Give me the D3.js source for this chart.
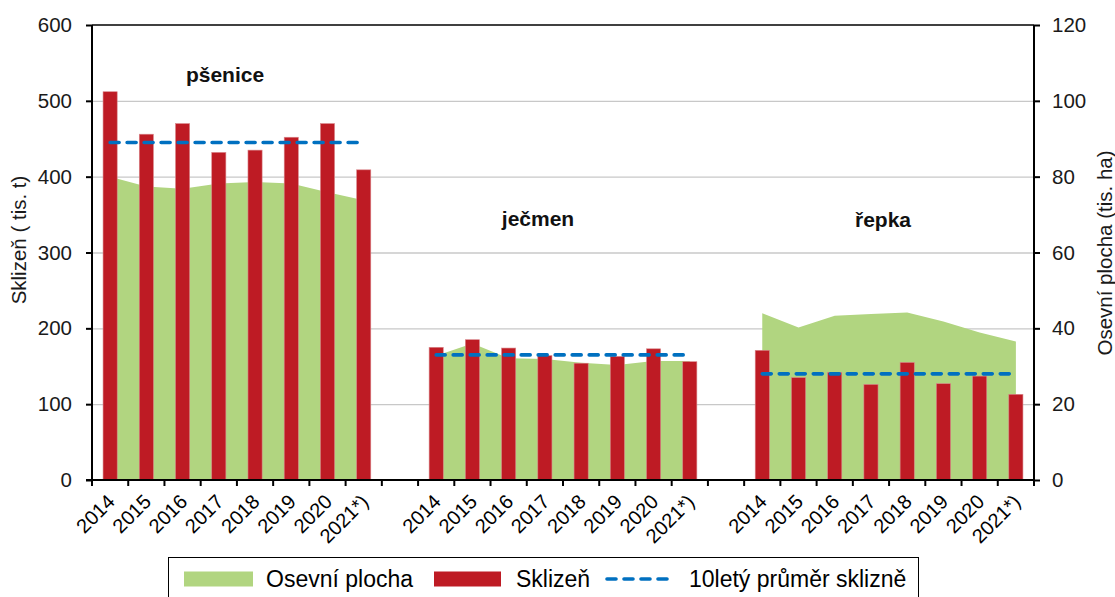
<!DOCTYPE html>
<html>
<head>
<meta charset="utf-8">
<script src="https://cdn.jsdelivr.net/npm/d3@7"></script>
<style>
  html, body { margin: 0; padding: 0; background: #fff; }
  svg { display: block; font-family: "Liberation Sans", Arial, sans-serif; }
</style>
</head>
<body>
<svg id="chart" width="1115" height="597"></svg>
<script>
// ---- data ----
const years = ["2014", "2015", "2016", "2017", "2018", "2019", "2020", "2021*)"];
const crops = ["pšenice", "ječmen", "řepka"];
const sklizenPsenice = [512, 456, 470, 432, 435, 452, 470, 409];
const sklizenJecmen  = [175, 185, 174, 164, 154, 163, 173, 156];
const sklizenRepka   = [171, 135, 142, 126, 155, 127, 137, 113];
const plochaPsenice  = [80.0, 77.4, 76.8, 78.2, 78.6, 78.2, 75.9, 73.8];
const plochaJecmen   = [32.8, 36.0, 32.1, 31.9, 30.9, 30.3, 31.4, 31.4];
const plochaRepka    = [44.0, 40.2, 43.3, 43.8, 44.2, 41.8, 38.9, 36.5];
const prumer10       = [445, 165, 140];
const leftTicks  = [0, 100, 200, 300, 400, 500, 600];
const rightTicks = [0, 20, 40, 60, 80, 100, 120];
const legendLabels = ["Osevní plocha", "Sklizeň", "10letý průměr sklizně"];
const yTitleLeft = "Sklizeň ( tis. t)";
const yTitleRight = "Osevní plocha (tis. ha)";

const sklizen = [sklizenPsenice, sklizenJecmen, sklizenRepka];
const plocha = [plochaPsenice, plochaJecmen, plochaRepka];

// build category keys: 3 groups of 8 with a blank category between groups
const cats = [];
crops.forEach((c, gi) => {
  years.forEach((y, yi) => cats.push({key: gi + "_" + yi, label: y, g: gi, i: yi}));
  if (gi < crops.length - 1) cats.push({key: "gap" + gi, label: "", g: -1, i: -1});
});

// ---- layout ----
const M = {left: 92, right: 1034, top: 25, bottom: 480};
const RED = "#be1b24", GREEN = "#b1d580", BLUE = "#0070c0";
const FONT = 20.5;

const svg = d3.select("#chart");
const x = d3.scaleBand().domain(cats.map(d => d.key)).range([M.left, M.right])
  .paddingInner(0.61).paddingOuter(0.305);
const xc = k => x(k) + x.bandwidth() / 2;
const step = x.step();
const yL = d3.scaleLinear().domain([0, 600]).range([M.bottom, M.top]);
const yR = d3.scaleLinear().domain([0, 120]).range([M.bottom, M.top]);

// gridlines
svg.append("g").selectAll("line").data(leftTicks.filter(t => t > 0 && t < 600)).join("line")
  .attr("x1", M.left).attr("x2", M.right)
  .attr("y1", d => yL(d) + 0.5).attr("y2", d => yL(d) + 0.5)
  .attr("stroke", "#c8c8c8").attr("stroke-width", 1.3);

// areas (Osevní plocha, right axis)
const area = d3.area().x(d => xc(d.k)).y0(yR(0)).y1(d => yR(d.v));
plocha.forEach((arr, gi) => {
  const pts = arr.map((v, i) => ({k: gi + "_" + i, v}));
  svg.append("path").datum(pts).attr("d", area).attr("fill", GREEN);
});

// bars (Sklizeň, left axis)
const barData = [];
sklizen.forEach((arr, gi) => arr.forEach((v, i) => barData.push({k: gi + "_" + i, v})));
svg.append("g").selectAll("rect").data(barData).join("rect")
  .attr("x", d => x(d.k)).attr("width", x.bandwidth())
  .attr("y", d => yL(d.v)).attr("height", d => yL(0) - yL(d.v))
  .attr("fill", RED).attr("stroke", "#d9878b").attr("stroke-width", 0.6);

// 10-year average lines
prumer10.forEach((v, gi) => {
  svg.append("line")
    .attr("x1", xc(gi + "_0")).attr("x2", xc(gi + "_7"))
    .attr("y1", yL(v)).attr("y2", yL(v))
    .attr("stroke", BLUE).attr("stroke-width", 3.6)
    .attr("stroke-dasharray", "9,8").attr("stroke-linecap", "round");
});

// axes
const axL = svg.append("g").attr("transform", `translate(${M.left},0)`)
  .call(d3.axisLeft(yL).tickValues(leftTicks).tickSize(6).tickPadding(14).tickFormat(d3.format("d")));
const axR = svg.append("g").attr("transform", `translate(${M.right},0)`)
  .call(d3.axisRight(yR).tickValues(rightTicks).tickSize(6).tickPadding(12).tickFormat(d3.format("d")));
[axL, axR].forEach(a => {
  a.select(".domain").attr("stroke", "#000").attr("stroke-width", 2).attr("d", `M0,${M.top}V${M.bottom}`);
  a.selectAll(".tick line").attr("stroke", "#000").attr("stroke-width", 2);
  a.selectAll(".tick text").attr("font-size", FONT).attr("fill", "#1a1a1a")
    .attr("font-family", "Liberation Sans, Arial, sans-serif");
});
// top border
svg.append("line").attr("x1", M.left).attr("x2", M.right)
  .attr("y1", M.top).attr("y2", M.top).attr("stroke", "#000").attr("stroke-width", 1.5);

// x axis
const gx = svg.append("g");
gx.append("line").attr("x1", M.left - 6).attr("x2", M.right)
  .attr("y1", M.bottom).attr("y2", M.bottom).attr("stroke", "#000").attr("stroke-width", 2);
const bounds = d3.range(cats.length + 1).map(i => M.left + i * step);
gx.selectAll("line.t").data(bounds).join("line").attr("class", "t")
  .attr("x1", d => d).attr("x2", d => d).attr("y1", M.bottom).attr("y2", M.bottom + 6)
  .attr("stroke", "#000").attr("stroke-width", 2);
gx.selectAll("text").data(cats.filter(d => d.label)).join("text")
  .attr("transform", d => `translate(${xc(d.key) + 1},${M.bottom + 18}) rotate(-45)`)
  .attr("text-anchor", "end").attr("dy", "0.35em")
  .attr("font-size", 20).attr("fill", "#000").text(d => d.label);

// group labels
const groupLabelPos = [[225, 82], [538, 226], [883, 227]];
crops.forEach((c, gi) => {
  svg.append("text").attr("x", groupLabelPos[gi][0]).attr("y", groupLabelPos[gi][1])
    .attr("text-anchor", "middle").attr("font-weight", "bold").attr("font-size", 21)
    .attr("fill", "#111").text(c);
});

// axis titles
svg.append("text").attr("transform", "translate(26,240) rotate(-90)")
  .attr("text-anchor", "middle").attr("font-size", FONT).attr("fill", "#1a1a1a").text(yTitleLeft);
svg.append("text").attr("transform", "translate(1112,253) rotate(-90)")
  .attr("text-anchor", "middle").attr("font-size", FONT).attr("fill", "#1a1a1a").text(yTitleRight);

// legend
const lg = svg.append("g");
lg.append("rect").attr("x", 168.5).attr("y", 557.5).attr("width", 750).attr("height", 50)
  .attr("fill", "#fff").attr("stroke", "#000").attr("stroke-width", 1);
const ly = 579;
const lfs = 23;
lg.append("rect").attr("x", 184).attr("y", ly - 7.5).attr("width", 69).attr("height", 15).attr("fill", GREEN);
lg.append("text").attr("x", 266).attr("y", ly).attr("dy", "0.35em").attr("font-size", lfs).text(legendLabels[0]);
lg.append("rect").attr("x", 434).attr("y", ly - 7.5).attr("width", 67).attr("height", 15).attr("fill", RED);
lg.append("text").attr("x", 516).attr("y", ly).attr("dy", "0.35em").attr("font-size", lfs).text(legendLabels[1]);
lg.append("line").attr("x1", 607).attr("x2", 673).attr("y1", ly).attr("y2", ly)
  .attr("stroke", BLUE).attr("stroke-width", 3.6).attr("stroke-dasharray", "9,8").attr("stroke-linecap", "round");
lg.append("text").attr("x", 689).attr("y", ly).attr("dy", "0.35em").attr("font-size", lfs).text(legendLabels[2]);
</script>
</body>
</html>
